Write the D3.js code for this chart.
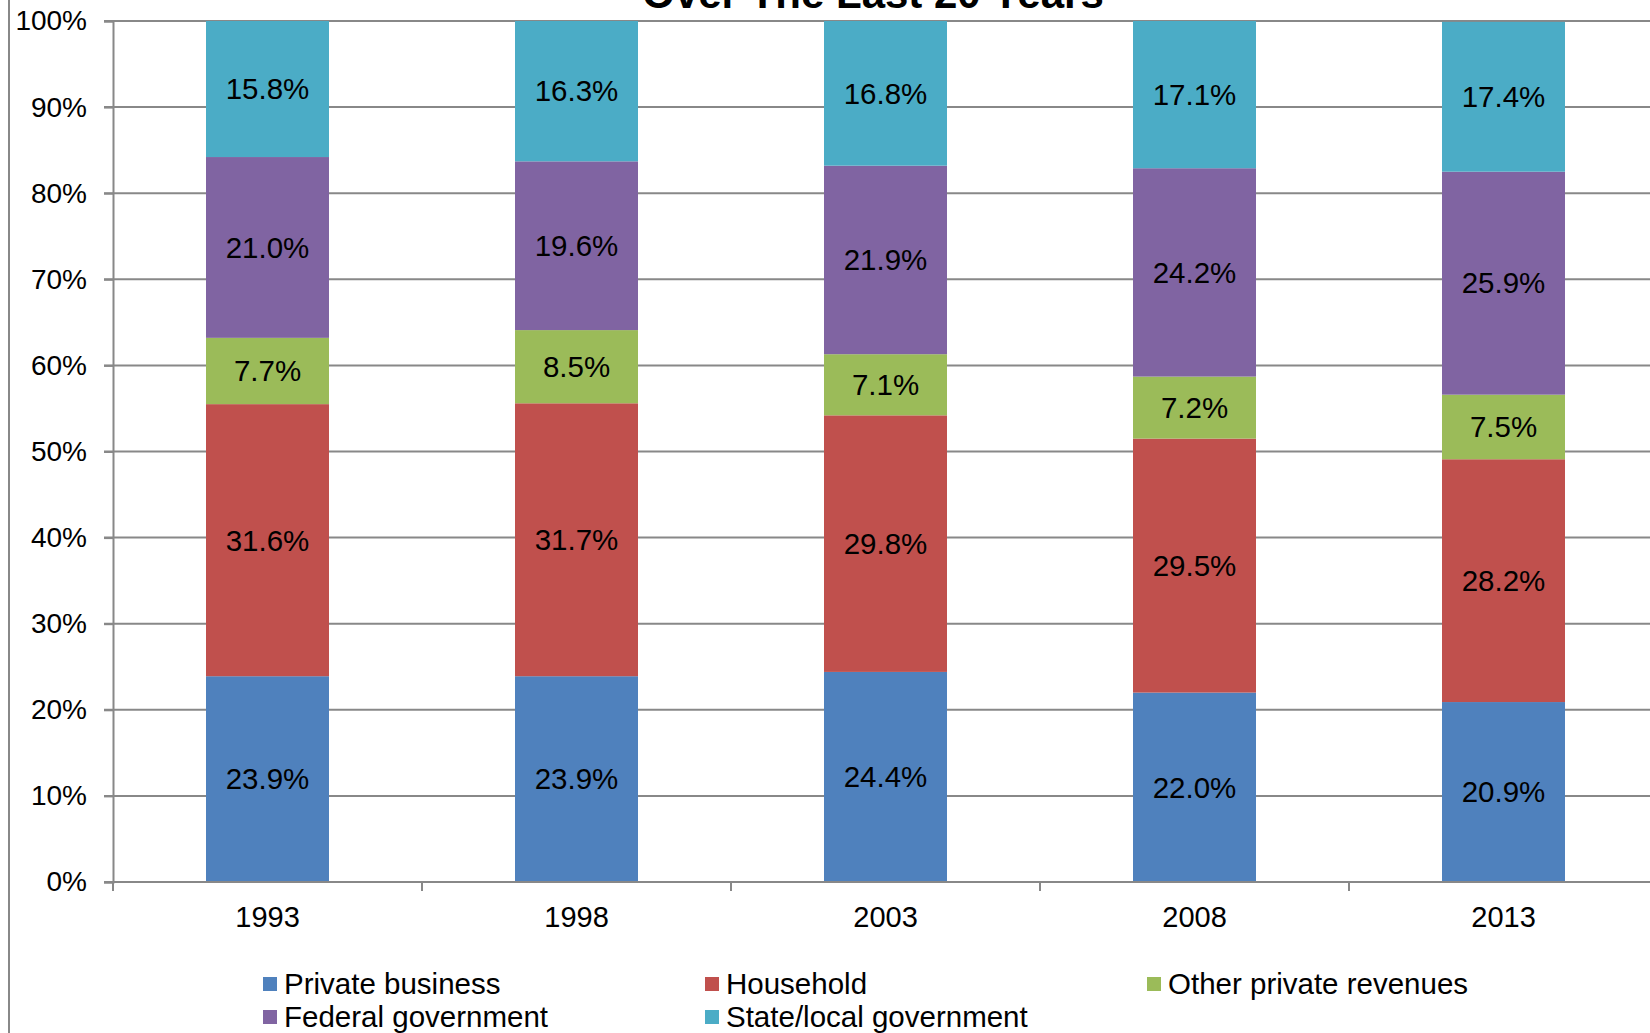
<!DOCTYPE html>
<html>
<head>
<meta charset="utf-8">
<script src="https://cdn.jsdelivr.net/npm/d3@7"></script>
<style>
  body { margin: 0; background: #fff; }
  svg { display: block; font-family: "Liberation Sans", Arial, sans-serif; }
</style>
</head>
<body>
<div id="chart"></div>
<script>
var years = ["1993", "1998", "2003", "2008", "2013"];
var seriesNames = ["Private business", "Household", "Other private revenues", "Federal government", "State/local government"];
var seriesColors = ["#4F81BD", "#C0504D", "#9BBB59", "#8064A2", "#4BACC6"];
var privateBusiness = [23.9, 23.9, 24.4, 22.0, 20.9];
var household = [31.6, 31.7, 29.8, 29.5, 28.2];
var otherPrivate = [7.7, 8.5, 7.1, 7.2, 7.5];
var federalGov = [21.0, 19.6, 21.9, 24.2, 25.9];
var stateLocalGov = [15.8, 16.3, 16.8, 17.1, 17.4];
var yTicks = [0, 10, 20, 30, 40, 50, 60, 70, 80, 90, 100];

var width = 1650, height = 1033;
var x0 = 113, x1 = 1658, yTop = 21, yBottom = 882;

var svg = d3.select("#chart").append("svg")
    .attr("width", width)
    .attr("height", height);

// rows for the stack
var rows = years.map(function(y, i) {
  return {
    year: y,
    "Private business": privateBusiness[i],
    "Household": household[i],
    "Other private revenues": otherPrivate[i],
    "Federal government": federalGov[i],
    "State/local government": stateLocalGov[i]
  };
});
var stacked = d3.stack().keys(seriesNames)(rows);

var x = d3.scaleBand().domain(years).range([x0, x1]);
var y = d3.scaleLinear().domain([0, 100]).range([yBottom, yTop]);
var barW = 123;

// chart-area border on the left
svg.append("line")
    .attr("x1", 9).attr("x2", 9)
    .attr("y1", 0).attr("y2", height)
    .attr("stroke", "#888").attr("stroke-width", 2);

// gridlines
svg.append("g").selectAll("line")
    .data(yTicks)
  .enter().append("line")
    .attr("x1", x0 - 9).attr("x2", width)
    .attr("y1", function(d) { return y(d); })
    .attr("y2", function(d) { return y(d); })
    .attr("stroke", "#888").attr("stroke-width", 2);

// title (only the second line shows)
svg.append("text")
    .attr("x", 873).attr("y", 8)
    .attr("text-anchor", "middle")
    .style("font-size", "42px").style("font-weight", "bold")
    .text("Over The Last 20 Years");

// bars
var layers = svg.append("g").selectAll("g")
    .data(stacked)
  .enter().append("g")
    .attr("fill", function(d, i) { return seriesColors[i]; });

layers.selectAll("rect")
    .data(function(d) { return d; })
  .enter().append("rect")
    .attr("x", function(d) { return x(d.data.year) + x.bandwidth() / 2 - barW / 2; })
    .attr("y", function(d) { return y(d[1]); })
    .attr("width", barW)
    .attr("height", function(d) { return y(d[0]) - y(d[1]); });

// data labels
layers.selectAll("text")
    .data(function(d) { return d.map(function(p) { return { p: p, key: d.key }; }); })
  .enter().append("text")
    .attr("x", function(d) { return x(d.p.data.year) + x.bandwidth() / 2; })
    .attr("y", function(d) { return y((d.p[0] + d.p[1]) / 2); })
    .attr("dy", "0.35em")
    .attr("text-anchor", "middle")
    .attr("fill", "#000")
    .style("font-size", "29.5px")
    .text(function(d) { return d.p.data[d.key].toFixed(1) + "%"; });

// y axis
var yAxis = svg.append("g")
    .attr("transform", "translate(" + x0 + ",0)")
    .call(d3.axisLeft(y).tickValues(yTicks).tickSize(9).tickPadding(17)
      .tickFormat(function(d) { return d + "%"; }));
yAxis.select(".domain").attr("stroke", "#888").attr("stroke-width", 2);
yAxis.selectAll(".tick line").attr("stroke", "#888").attr("stroke-width", 2);
yAxis.selectAll(".tick text")
    .attr("fill", "#000")
    .style("font-size", "28px")
    .style("font-family", "Liberation Sans, Arial, sans-serif");

// x axis
var xAxis = svg.append("g")
    .attr("transform", "translate(0," + yBottom + ")")
    .call(d3.axisBottom(x).tickSize(0).tickPadding(24));
xAxis.select(".domain").remove();
xAxis.selectAll(".tick text")
    .attr("fill", "#000")
    .style("font-size", "29px")
    .style("font-family", "Liberation Sans, Arial, sans-serif");

// x ticks between categories
svg.append("g").selectAll("line")
    .data(years)
  .enter().append("line")
    .attr("x1", function(d) { return x(d); })
    .attr("x2", function(d) { return x(d); })
    .attr("y1", yBottom).attr("y2", yBottom + 9)
    .attr("stroke", "#888").attr("stroke-width", 2);
svg.append("line")
    .attr("x1", x0 - 9).attr("x2", width)
    .attr("y1", yBottom).attr("y2", yBottom)
    .attr("stroke", "#888").attr("stroke-width", 2);

// legend
var legendPos = [[263, 984], [705, 984], [1147, 984], [263, 1017], [705, 1017]];
var legend = svg.append("g").selectAll("g")
    .data(seriesNames)
  .enter().append("g")
    .attr("transform", function(d, i) { return "translate(" + legendPos[i][0] + "," + legendPos[i][1] + ")"; });
legend.append("rect")
    .attr("x", 0).attr("y", -7)
    .attr("width", 14).attr("height", 14)
    .attr("fill", function(d, i) { return seriesColors[i]; });
legend.append("text")
    .attr("x", 21).attr("dy", "0.35em")
    .style("font-size", "29.5px")
    .text(function(d) { return d; });
</script>
</body>
</html>
